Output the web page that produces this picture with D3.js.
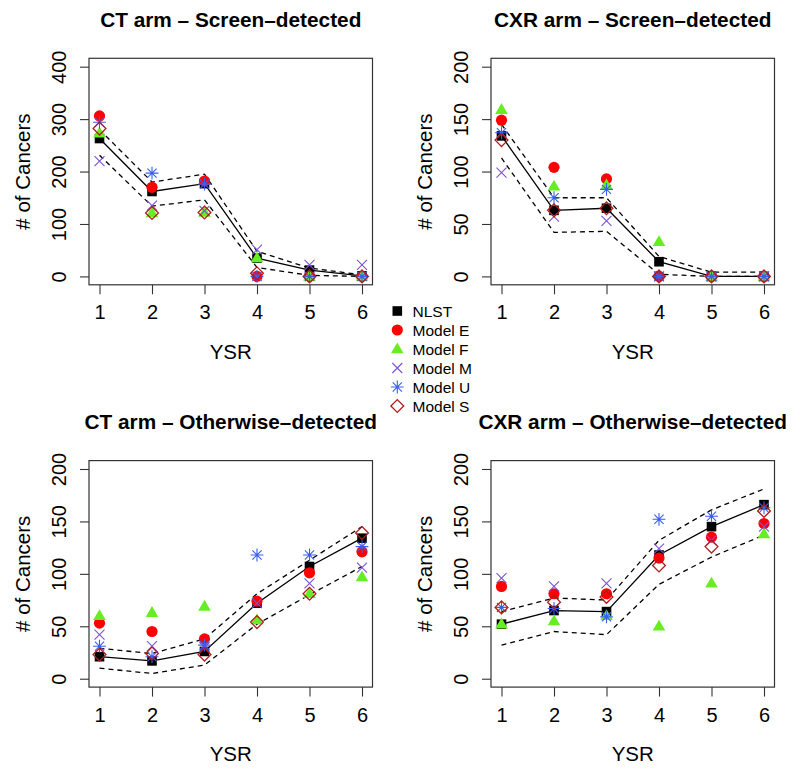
<!DOCTYPE html>
<html>
<head>
<meta charset="utf-8">
<script src="https://cdn.jsdelivr.net/npm/d3@7"></script>
<style>
  body { margin: 0; background: #fff; }
  text { font-family: "Liberation Sans", Arial, Helvetica, sans-serif; fill: #000; }
</style>
</head>
<body>
<div id="chart"></div>
<script>
// ---------- DATA ----------
const ysr = [1, 2, 3, 4, 5, 6];
const seriesNames = ["NLST", "Model E", "Model F", "Model M", "Model U", "Model S"];

// CT arm - screen-detected
const ctScreenNLST  = [263, 162, 177, 35, 12, 1];
const ctScreenE     = [306, 170, 182, 0, 0, 0];
const ctScreenF     = [273, 121, 122, 35, 0, 0];
const ctScreenM     = [220, 135, 125, 51, 22, 22];
const ctScreenU     = [294, 197, 176, 0, 0, 0];
const ctScreenS     = [282, 121, 122, 6, 0, 0];
const ctScreenUpper = [280, 180, 195, 48, 16, 3];
const ctScreenLower = [231, 134, 146, 17, 2, 0];

// CXR arm - screen-detected
const cxrScreenNLST  = [134, 63, 65, 14, 0, 0];
const cxrScreenE     = [149, 104, 93, 0, 0, 0];
const cxrScreenF     = [159, 86, 87, 33, 0, 0];
const cxrScreenM     = [99, 57, 53, 0, 0, 0];
const cxrScreenU     = [137, 75, 83, 0, 0, 0];
const cxrScreenS     = [130, 63, 65, 0, 0, 0];
const cxrScreenUpper = [145, 75, 75, 19, 4, 4];
const cxrScreenLower = [113, 42, 43, 2, 0, 0];

// CT arm - otherwise-detected
const ctOtherNLST  = [21, 17, 26, 72, 107, 134];
const ctOtherE     = [53, 45, 38, 74, 101, 121];
const ctOtherF     = [60, 63, 69, 56, 81, 97];
const ctOtherM     = [42, 31, 30, 72, 91, 106];
const ctOtherU     = [31, 21, 32, 118, 118, 126];
const ctOtherS     = [23, 24, 23, 54, 81, 139];
const ctOtherUpper = [29, 24, 38, 81, 113, 145];
const ctOtherLower = [10, 5, 13, 52, 80, 107];

// CXR arm - otherwise-detected
const cxrOtherNLST  = [52, 65, 64, 118, 145, 166];
const cxrOtherE     = [88, 81, 81, 115, 135, 148];
const cxrOtherF     = [52, 55, 60, 50, 91, 138];
const cxrOtherM     = [96, 88, 91, 124, 132, 145];
const cxrOtherU     = [68, 67, 59, 152, 155, 163];
const cxrOtherS     = [68, 73, 78, 108, 126, 160];
const cxrOtherUpper = [64, 77, 75, 132, 161, 181];
const cxrOtherLower = [32, 45, 42, 90, 116, 137];

const ticks400 = [0, 100, 200, 300, 400];
const ticks200 = [0, 50, 100, 150, 200];

// ---------- PANELS ----------
const panels = [
  { title: "CT arm \u2013 Screen\u2013detected", left: 89, top: 58.3, yMax: 400, ticks: ticks400,
    nlst: ctScreenNLST, models: [ctScreenE, ctScreenF, ctScreenM, ctScreenU, ctScreenS],
    upper: ctScreenUpper, lower: ctScreenLower },
  { title: "CXR arm \u2013 Screen\u2013detected", left: 491, top: 58.3, yMax: 200, ticks: ticks200,
    nlst: cxrScreenNLST, models: [cxrScreenE, cxrScreenF, cxrScreenM, cxrScreenU, cxrScreenS],
    upper: cxrScreenUpper, lower: cxrScreenLower },
  { title: "CT arm \u2013 Otherwise\u2013detected", left: 89, top: 460.6, yMax: 200, ticks: ticks200,
    nlst: ctOtherNLST, models: [ctOtherE, ctOtherF, ctOtherM, ctOtherU, ctOtherS],
    upper: ctOtherUpper, lower: ctOtherLower },
  { title: "CXR arm \u2013 Otherwise\u2013detected", left: 491, top: 460.6, yMax: 200, ticks: ticks200,
    nlst: cxrOtherNLST, models: [cxrOtherE, cxrOtherF, cxrOtherM, cxrOtherU, cxrOtherS],
    upper: cxrOtherUpper, lower: cxrOtherLower }
];

const BOX_W = 283.5;
const BOX_H = 226.5;
const colors = ["#000000", "#ff0000", "#66ee22", "#7b52d8", "#3a5ff0", "#b01c1c"];

// marker shapes (R pch 15, 16, 17, 4, 8, 5)
function drawMarker(sel, i, x, y) {
  const c = colors[i];
  if (i === 0) {
    sel.append("rect").attr("x", x - 4.8).attr("y", y - 4.8)
      .attr("width", 9.6).attr("height", 9.6).attr("fill", c);
  } else if (i === 1) {
    sel.append("circle").attr("cx", x).attr("cy", y).attr("r", 5.6).attr("fill", c);
  } else if (i === 2) {
    sel.append("path").attr("fill", c)
      .attr("d", `M${x},${y - 6.6} L${x + 6.3},${y + 4.3} L${x - 6.3},${y + 4.3} Z`);
  } else if (i === 3) {
    const r = 5;
    sel.append("path").attr("stroke", c).attr("stroke-width", 1.1).attr("fill", "none")
      .attr("d", `M${x - r},${y - r} L${x + r},${y + r} M${x - r},${y + r} L${x + r},${y - r}`);
  } else if (i === 4) {
    const r = 6.4, d = 4.6;
    sel.append("path").attr("stroke", c).attr("stroke-width", 1.1).attr("fill", "none")
      .attr("d", `M${x - r},${y} L${x + r},${y} M${x},${y - r} L${x},${y + r}` +
                 `M${x - d},${y - d} L${x + d},${y + d} M${x - d},${y + d} L${x + d},${y - d}`);
  } else {
    const r = 6.4;
    sel.append("path").attr("stroke", c).attr("stroke-width", 1.3).attr("fill", "none")
      .attr("d", `M${x},${y - r} L${x + r},${y} L${x},${y + r} L${x - r},${y} Z`);
  }
}

const svg = d3.select("#chart").append("svg")
  .attr("width", 800).attr("height", 773);

panels.forEach(p => {
  const x = d3.scaleLinear().domain([0.8, 6.2]).range([p.left, p.left + BOX_W]);
  const pad = p.yMax * 0.04;
  const y = d3.scaleLinear().domain([-pad, p.yMax + pad]).range([p.top + BOX_H, p.top]);
  const g = svg.append("g");

  // box
  g.append("rect").attr("x", p.left).attr("y", p.top)
    .attr("width", BOX_W).attr("height", BOX_H)
    .attr("fill", "none").attr("stroke", "#333").attr("stroke-width", 1.2);

  // axes
  const xAxis = g.append("g").attr("transform", `translate(0,${p.top + BOX_H})`)
    .call(d3.axisBottom(x).tickValues(ysr).tickSize(9.5).tickPadding(10).tickFormat(d3.format("d")));
  const yAxis = g.append("g").attr("transform", `translate(${p.left},0)`)
    .call(d3.axisLeft(y).tickValues(p.ticks).tickSize(9).tickFormat(d3.format("d")));
  [xAxis, yAxis].forEach(a => {
    a.select(".domain").remove();
    a.selectAll("line").attr("stroke", "#333").attr("stroke-width", 1.1);
    a.selectAll("text").style("font-size", "20px").attr("fill", "#000");
  });
  xAxis.selectAll("text").attr("dy", null).attr("y", 34.5);
  // rotated tick labels, R style (las = 0)
  yAxis.selectAll("text")
    .attr("x", null).attr("dy", null)
    .attr("text-anchor", "middle")
    .attr("transform", "translate(-23,0) rotate(-90)");

  // titles and labels
  g.append("text").attr("x", p.left + BOX_W / 2).attr("y", p.top - 31.5)
    .attr("text-anchor", "middle").style("font-size", "20.8px").style("font-weight", "bold")
    .text(p.title);
  g.append("text").attr("x", p.left + BOX_W / 2).attr("y", p.top + BOX_H + 74)
    .attr("text-anchor", "middle").style("font-size", "20.5px").text("YSR");
  g.append("text")
    .attr("transform", `translate(${p.left - 59},${p.top + BOX_H / 2}) rotate(-90)`)
    .attr("text-anchor", "middle").style("font-size", "20.5px").text("# of Cancers");

  // lines
  const line = d3.line().x((d, i) => x(ysr[i])).y(d => y(d));
  [p.upper, p.lower].forEach(arr => {
    g.append("path").attr("d", line(arr)).attr("fill", "none")
      .attr("stroke", "#000").attr("stroke-width", 1.3).attr("stroke-dasharray", "5,4");
  });
  g.append("path").attr("d", line(p.nlst)).attr("fill", "none")
    .attr("stroke", "#000").attr("stroke-width", 1.3);

  // markers
  [p.nlst].concat(p.models).forEach((arr, si) => {
    arr.forEach((v, i) => drawMarker(g, si, x(ysr[i]), y(v)));
  });
});

// legend
const leg = svg.append("g");
seriesNames.forEach((name, i) => {
  const ly = 311 + i * 19;
  drawMarker(leg, i, 397.3, ly);
  leg.append("text").attr("x", 412.5).attr("y", ly + 5.6)
    .style("font-size", "15.5px").text(name);
});
</script>
</body>
</html>
